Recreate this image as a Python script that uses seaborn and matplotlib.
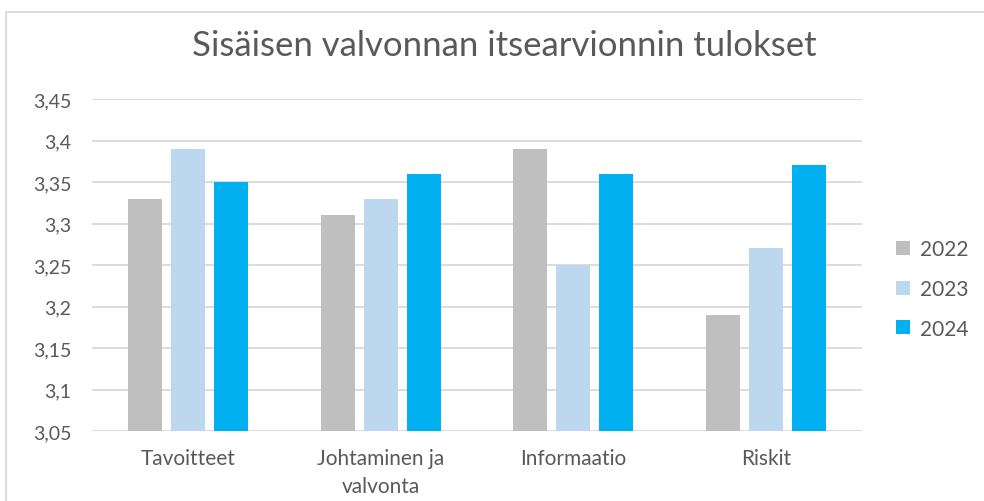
import matplotlib
matplotlib.use("Agg")
import matplotlib.pyplot as plt
import matplotlib.ticker as mticker
from matplotlib.patches import Rectangle
import pandas as pd
import seaborn as sns

categories = ["Tavoitteet", "Johtaminen ja\nvalvonta", "Informaatio", "Riskit"]
years = ["2022", "2023", "2024"]
values_2022 = [3.33, 3.31, 3.39, 3.19]
values_2023 = [3.39, 3.33, 3.25, 3.27]
values_2024 = [3.35, 3.36, 3.36, 3.37]
colors = ["#BFBFBF", "#BDD7EE", "#00B0F0"]

rows = []
for year, vals in zip(years, [values_2022, values_2023, values_2024]):
    for cat, v in zip(categories, vals):
        rows.append({"Kategoria": cat, "Vuosi": year, "Arvo": v})
df = pd.DataFrame(rows)

sns.set_theme(style="white")
plt.rcParams["font.family"] = ["Lato", "DejaVu Sans"]
text_color = "#595959"

fig = plt.figure(figsize=(9.84, 5.02), dpi=100)
ax = fig.add_axes([0.0935, 0.1394, 0.7825, 0.6614])

sns.barplot(data=df, x="Kategoria", y="Arvo", hue="Vuosi", palette=colors,
            width=0.67, gap=0.21, ax=ax, saturation=1, linewidth=0,
            legend=True)

ax.set_ylim(3.05, 3.45)
ax.yaxis.set_major_locator(mticker.MultipleLocator(0.05))
ax.yaxis.set_major_formatter(mticker.FuncFormatter(
    lambda v, p: f"{v:.2f}".rstrip("0").rstrip(".").replace(".", ",")))
ax.grid(axis="y", color="#D9D9D9", linewidth=1.3)
ax.set_axisbelow(True)
for s in ax.spines.values():
    s.set_visible(False)
ax.tick_params(axis="y", length=0, labelsize=14, colors=text_color, pad=15)
ax.tick_params(axis="x", length=0, labelsize=15, colors=text_color, pad=12)
ax.set_xlabel("")
ax.set_ylabel("")
for lbl in ax.get_xticklabels():
    lbl.set_linespacing(1.55)

fig.suptitle("Sisäisen valvonnan itsearvionnin tulokset", x=0.513, y=0.94,
             fontsize=25, color=text_color)

leg = ax.legend(loc="center left", bbox_to_anchor=(1.02, 0.428), frameon=False,
                handlelength=0.65, handleheight=0.65, handletextpad=0.5,
                labelspacing=0.95, labelcolor=text_color,
                prop={"family": ["Lato", "DejaVu Sans"], "size": 15})

fig.patches.append(Rectangle((6 / 984, -0.1), 1.1, 1 - 13 / 502 + 0.1,
                             transform=fig.transFigure, fill=False,
                             edgecolor="#D9D9D9", linewidth=1.3))

fig.savefig("out.png", dpi=100)
